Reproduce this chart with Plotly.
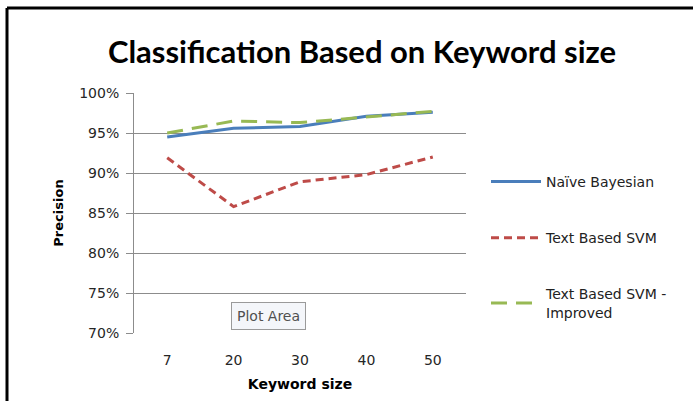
import plotly.graph_objects as go

categories = ["7", "20", "30", "40", "50"]
naive_bayes = [0.945, 0.956, 0.958, 0.971, 0.976]
text_svm = [0.919, 0.858, 0.889, 0.898, 0.920]
text_svm_improved = [0.950, 0.965, 0.963, 0.970, 0.977]
y_ticks = [0.70, 0.75, 0.80, 0.85, 0.90, 0.95, 1.00]
y_tick_labels = ["70%", "75%", "80%", "85%", "90%", "95%", "100%"]

W, H = 693, 401
ML, MR, MT, MB = 134, 227, 93, 68
PW, PH = W - ML - MR, H - MT - MB

fig = go.Figure()
fig.add_trace(go.Scatter(x=categories, y=naive_bayes, mode="lines", name="Naïve Bayesian",
                         line=dict(color="#4a7ebb", width=3), legendgroup="a"))
fig.add_trace(go.Scatter(x=categories, y=text_svm, mode="lines", name="Text Based SVM",
                         line=dict(color="#be4b48", width=3, dash="8px,5px"), legendgroup="b"))
fig.add_trace(go.Scatter(x=categories, y=text_svm_improved, mode="lines",
                         name="Text Based SVM -<br>Improved",
                         line=dict(color="#98b954", width=3, dash="16px,9px"), legendgroup="c"))

tick_font = dict(family="DejaVu Sans", size=14, color="#262626")
title_font = dict(family="DejaVu Sans", size=14, color="black")

fig.update_layout(
    width=W, height=H,
    margin=dict(l=ML, r=MR, t=MT, b=MB),
    paper_bgcolor="white", plot_bgcolor="white",
    title=dict(text="<b>Classification Based on Keyword size</b>",
               font=dict(family="Lato", size=31, color="black"),
               x=362 / W, xanchor="center", y=1 - 52 / H, yanchor="middle"),
    xaxis=dict(type="category", range=[-0.5, 4.5], showgrid=False, showline=False, ticks="",
               tickfont=tick_font, ticklabelstandoff=17,
               title=dict(text="<b>Keyword size</b>", font=title_font, standoff=12)),
    yaxis=dict(range=[0.70, 1.00], tickvals=y_ticks, ticktext=y_tick_labels,
               showgrid=True, gridcolor="#8c8c8c", gridwidth=1,
               showline=True, linecolor="#8c8c8c", linewidth=1,
               ticks="outside", ticklen=7, tickcolor="#8c8c8c",
               tickfont=tick_font, zeroline=False, ticklabelstandoff=4,
               title=dict(text="<b>Precision</b>", font=dict(family="DejaVu Sans", size=13, color="black"),
                          standoff=12)),
    legend=dict(x=(486 - ML) / PW, xanchor="left",
                y=1 - (166 - MT) / PH, yanchor="top",
                font=dict(family="DejaVu Sans", size=14, color="#222222"),
                tracegroupgap=35, itemwidth=50, bgcolor="rgba(0,0,0,0)"),
    showlegend=True,
)

# Outer chart border (top and left edges visible)
fig.add_shape(type="line", xref="paper", yref="paper",
              x0=(7 - ML) / PW, x1=(W + 5 - ML) / PW,
              y0=1 + (MT - 8) / PH, y1=1 + (MT - 8) / PH,
              line=dict(color="black", width=3))
fig.add_shape(type="line", xref="paper", yref="paper",
              x0=(7 - ML) / PW, x1=(7 - ML) / PW,
              y0=1 + (MT - 8) / PH, y1=-(MB + 5) / PH,
              line=dict(color="black", width=3))

# "Plot Area" tooltip
fig.add_annotation(xref="paper", yref="paper",
                   x=(268 - ML) / PW, y=(H - MB - 316) / PH,
                   xanchor="center", yanchor="middle",
                   text="Plot Area", showarrow=False,
                   font=dict(family="DejaVu Sans", size=14, color="#505050"),
                   bgcolor="#f4f6fa", bordercolor="#9a9a9a", borderwidth=1, borderpad=5)

fig.write_html("out.html")
